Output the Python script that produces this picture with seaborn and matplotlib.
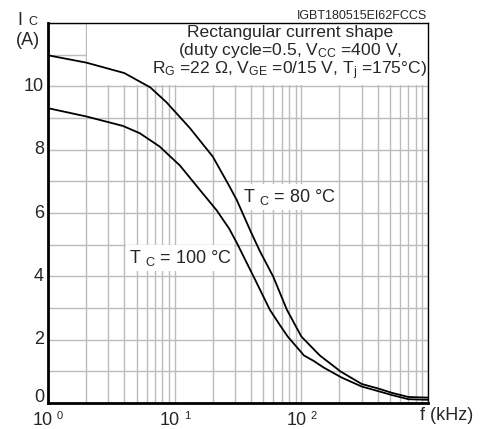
import matplotlib
matplotlib.use("Agg")
import matplotlib.pyplot as plt
import seaborn as sns
import pandas as pd
from matplotlib.patches import Rectangle
from matplotlib.ticker import LogLocator, NullFormatter, MultipleLocator

# ---- data ----
f_80 = [1, 2, 4, 5.3, 6.4, 8.6, 13.2, 20, 27, 31, 40, 47, 60, 77, 100, 140, 205, 300, 410, 520, 700, 1000]
i_80 = [10.98, 10.75, 10.42, 10.15, 9.97, 9.5, 8.68, 7.78, 6.85, 6.4, 5.4, 4.8, 3.99, 2.94, 2.1, 1.5, 0.99, 0.6, 0.45, 0.32, 0.19, 0.17]

f_100 = [1, 2, 3.9, 5.3, 7.6, 11, 15.8, 21.5, 27, 31, 42, 56.5, 68, 78, 105, 125, 150, 209, 300, 400, 520, 700, 1000]
i_100 = [9.31, 9.05, 8.75, 8.52, 8.1, 7.5, 6.73, 6.08, 5.5, 5.05, 3.99, 2.94, 2.45, 2.1, 1.5, 1.33, 1.12, 0.8, 0.52, 0.38, 0.25, 0.12, 0.1]

y_ticks = [0, 2, 4, 6, 8, 10]
x_decades = [0, 1, 2]

sns.set_style("white")
plt.rcParams["font.family"] = ["Liberation Sans", "DejaVu Sans"]
plt.rcParams["mathtext.fontset"] = "custom"
plt.rcParams["mathtext.rm"] = "Liberation Sans"
plt.rcParams["mathtext.it"] = "Liberation Sans"

df = pd.concat([
    pd.DataFrame({"f": f_80, "I": i_80, "s": "80"}),
    pd.DataFrame({"f": f_100, "I": i_100, "s": "100"}),
])

fig = plt.figure(figsize=(4.84, 4.29), dpi=100)
ax = fig.add_axes([48/484, 26/429, 380/484, 380/429])

sns.lineplot(data=df, x="f", y="I", units="s", estimator=None, color="black",
             linewidth=1.3, ax=ax, zorder=3, sort=False)

ax.set_xscale("log")
ax.set_xlim(1, 1000)
ax.set_ylim(0, 12)
ax.xaxis.set_major_locator(LogLocator(base=10, numticks=10))
ax.xaxis.set_minor_locator(LogLocator(base=10, subs=range(2, 10), numticks=20))
ax.yaxis.set_major_locator(MultipleLocator(1))
ax.xaxis.set_major_formatter(NullFormatter())
ax.xaxis.set_minor_formatter(NullFormatter())
ax.yaxis.set_major_formatter(NullFormatter())
ax.tick_params(which="both", length=0)
ax.set_axisbelow(True)
ax.grid(True, which="both", axis="both", color="#bcbcbc", linewidth=1.0)
ax.set_xlabel("")
ax.set_ylabel("")

for side in ["left", "bottom"]:
    ax.spines[side].set_linewidth(2.0)
for side in ["top", "right"]:
    ax.spines[side].set_linewidth(1.0)
for s in ax.spines.values():
    s.set_color("black")
    s.set_zorder(5)

# white area for the condition text
ax.add_patch(Rectangle((2.04, 10.04), 1000 - 2.04, 12 - 10.04, facecolor="white",
                       edgecolor="none", zorder=1))

# y tick labels
for v in y_ticks:
    dy = 6 if v == 0 else 0
    ax.annotate(str(v), xy=(0, v), xycoords=("axes fraction", "data"),
                xytext=(-4, dy), textcoords="offset pixels", ha="right", va="center",
                fontsize=13)

# x tick labels 10^n
for e in x_decades:
    x = 10 ** e
    ax.annotate("10", xy=(x, 0), xycoords=("data", "axes fraction"),
                xytext=(5, -22), textcoords="offset pixels", ha="right", va="baseline",
                fontsize=13, annotation_clip=False)
    ax.annotate(str(e), xy=(x, 0), xycoords=("data", "axes fraction"),
                xytext=(9, -16), textcoords="offset pixels", ha="left", va="baseline",
                fontsize=8, annotation_clip=False)

fig.text(447/484, 1 - 415/429, "f (kHz)", ha="center", va="center", fontsize=13)

# y axis label
fig.text(17/484, 1 - 25/429, "I", ha="left", va="baseline", fontsize=13)
fig.text(28/484, 1 - 25/429, "C", ha="left", va="baseline", fontsize=9)
fig.text(16/484, 1 - 45/429, "(A)", ha="left", va="baseline", fontsize=13)

# top right code
fig.text(427/484, 1 - 19/429, "IGBT180515EI62FCCS", ha="right", va="baseline", fontsize=9)

# condition text
cx = 290/484
fs = 12.6
fig.text(cx, 1 - 37/429, "Rectangular current shape", ha="center", va="baseline", fontsize=fs)
fig.text(cx, 1 - 55/429, r"(duty cycle=0.5, V$\mathregular{_{CC}}$ =400 V,", ha="center",
         va="baseline", fontsize=fs)
fig.text(cx, 1 - 74/429,
         r"R$\mathregular{_G}$ =22 Ω, V$\mathregular{_{GE}}$ =0/15 V, T$\mathregular{_j}$ =175°C)",
         ha="center", va="baseline", fontsize=fs)

# curve labels
lbl_kw = dict(fontsize=13, va="center", ha="left", zorder=2,
              bbox=dict(facecolor="white", edgecolor="none", pad=2))
ax.annotate(r"T $\mathregular{_C}$ = 80 °C", xy=(1, 0), xycoords="axes fraction",
            xytext=(243 - 428, -(197 - 403)), textcoords="offset pixels", **lbl_kw)
ax.annotate(r"T $\mathregular{_C}$ = 100 °C", xy=(1, 0), xycoords="axes fraction",
            xytext=(129 - 428, -(258 - 403)), textcoords="offset pixels", **lbl_kw)

legend = ax.get_legend()
if legend is not None:
    legend.remove()

fig.savefig("out.png", dpi=100)
